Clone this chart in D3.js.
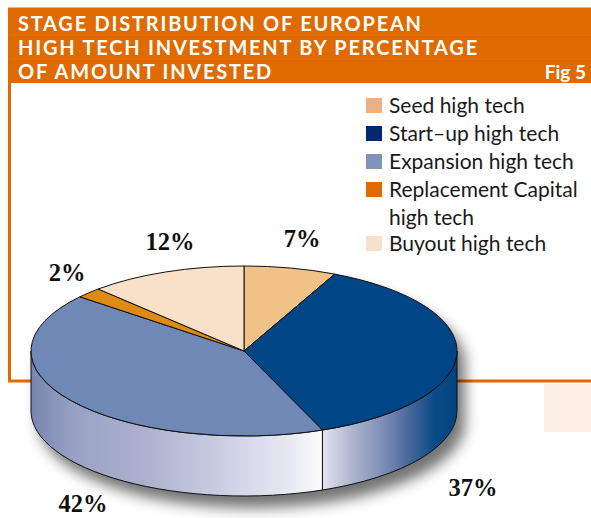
<!DOCTYPE html>
<html><head><meta charset="utf-8">
<script src="https://cdn.jsdelivr.net/npm/d3@7"></script>
<style>html,body{margin:0;padding:0;background:#fff}svg{display:block}</style>
</head><body><svg id="c" width="591" height="518"></svg>
<script>
const categories = ["Seed high tech","Start\u2013up high tech","Expansion high tech","Replacement Capital high tech","Buyout high tech"];
const values = [7,37,42,2,12];
const valueLabels = ["7%","37%","42%","2%","12%"];
const topColors = ["#f1c288","#004586","#7088b6","#e08a16","#f8e1c6"];
const legendColors = ["#eeb07e","#002a6c","#7f94ba","#e06a00","#f8e0cf"];
const titleLines = ["STAGE DISTRIBUTION OF EUROPEAN","HIGH TECH INVESTMENT BY PERCENTAGE","OF AMOUNT INVESTED"];
const figLabel = "Fig 5";

// layout
const W=591,H=518,cx=244,cy=351,rx=213,ry=85,depth=60;
const labelPos=[[302,247],[473,496],[83,512],[67,281],[170,250]];
const legendRows=[[113],[141],[169],[197,225],[251]];
const svg=d3.select("#c");
const defs=svg.append("defs");
const blur=defs.append("filter").attr("id","blur").attr("x","-20%").attr("y","-20%").attr("width","140%").attr("height","140%");
blur.append("feGaussianBlur").attr("stdDeviation",7);
function grad(id,x1,x2,stops){
  const g=defs.append("linearGradient").attr("id",id).attr("gradientUnits","userSpaceOnUse")
    .attr("x1",x1).attr("x2",x2).attr("y1",0).attr("y2",0);
  stops.forEach(s=>g.append("stop").attr("offset",(s[0]-x1)/(x2-x1)).attr("stop-color",s[1]));
}
grad("wallExp",31,322,[[31,"#7785ae"],[75,"#98a2c4"],[150,"#aeb3cf"],[230,"#cfd2e4"],[290,"#e8e9f2"],[322,"#fbfbfb"]]);
grad("wallStart",322,457,[[322,"#e2e4f0"],[358,"#a5acca"],[385,"#7a8bb3"],[407,"#4d6a9c"],[434,"#0c4b88"],[457,"#00437f"]]);

// frame and header
svg.append("rect").attr("x",544).attr("y",384).attr("width",47).attr("height",48).attr("fill","#fbefe5");
svg.append("path").attr("d","M591 381H9.5V9H591").attr("fill","none").attr("stroke","#e06a00").attr("stroke-width",3);
svg.append("rect").attr("x",8).attr("y",8).attr("width",583).attr("height",75).attr("fill","#df6a00");
[35,59].forEach(y=>svg.append("line").attr("x1",10).attr("x2",591).attr("y1",y).attr("y2",y).attr("stroke","#e2721a").attr("stroke-width",1));
const titleFont="Lato,'Open Sans',sans-serif";
svg.selectAll("text.title").data(titleLines).join("text").attr("class","title")
  .attr("x",18).attr("y",(d,i)=>31+i*24).attr("fill","#fff").attr("font-family",titleFont)
  .attr("font-weight",700).attr("font-size",20).attr("letter-spacing",1.78).text(d=>d);
svg.append("text").attr("x",586).attr("y",79).attr("text-anchor","end").attr("fill","#fff")
  .attr("font-family",titleFont).attr("font-weight",700).attr("font-size",19).text(figLabel);

// legend
const legend=svg.append("g");
const legendLines=[[categories[0]],[categories[1]],[categories[2]],["Replacement Capital","high tech"],[categories[4]]];
categories.forEach((c,i)=>{
  legend.append("rect").attr("x",366).attr("y",legendRows[i][0]-15).attr("width",16).attr("height",15).attr("fill",legendColors[i]);
  legendLines[i].forEach((t,j)=>legend.append("text").attr("x",389).attr("y",legendRows[i][j])
    .attr("font-family","Lato,'Open Sans',sans-serif").attr("font-size",21).attr("fill","#1a1a1a").text(t));
});

// pie
const pie=d3.pie().sort(null).value(d=>d)(values);
const px=a=>cx+rx*Math.sin(a), py=a=>cy-ry*Math.cos(a);
// shadow
svg.append("path").attr("filter","url(#blur)").attr("fill","#000").attr("fill-opacity",0.55)
  .attr("d",`M${cx-rx+8} ${cy+12}A${rx} ${ry} 0 0 1 ${cx+rx+8} ${cy+12}V${cy+depth+12}A${rx} ${ry} 0 0 1 ${cx-rx+8} ${cy+depth+12}Z`);
const walls=svg.append("g");
const wallFill=["none","url(#wallStart)","url(#wallExp)","none","none"];
pie.forEach((s,i)=>{
  const a0=Math.max(s.startAngle,Math.PI/2),a1=Math.min(s.endAngle,3*Math.PI/2);
  if(a1<=a0)return;
  walls.append("path").attr("fill",wallFill[i]).attr("stroke","#111").attr("stroke-width",1)
   .attr("d",`M${px(a0)} ${py(a0)}A${rx} ${ry} 0 0 1 ${px(a1)} ${py(a1)}V${py(a1)+depth}A${rx} ${ry} 0 0 0 ${px(a0)} ${py(a0)+depth}Z`);
});
// top
const arc=d3.arc().innerRadius(0).outerRadius(rx);
svg.append("g").attr("transform",`translate(${cx},${cy}) scale(1,${ry/rx})`)
  .selectAll("path").data(pie).join("path").attr("d",arc).attr("fill",(d,i)=>topColors[i])
  .attr("stroke","#111").attr("stroke-width",1).attr("vector-effect","non-scaling-stroke");
// value labels
svg.selectAll("text.val").data(valueLabels).join("text").attr("class","val")
  .attr("x",(d,i)=>labelPos[i][0]).attr("y",(d,i)=>labelPos[i][1]).attr("text-anchor","middle")
  .attr("font-family","'Liberation Serif',serif").attr("font-weight",700).attr("font-size",24.5).attr("fill","#111").text(d=>d);
</script></body></html>
